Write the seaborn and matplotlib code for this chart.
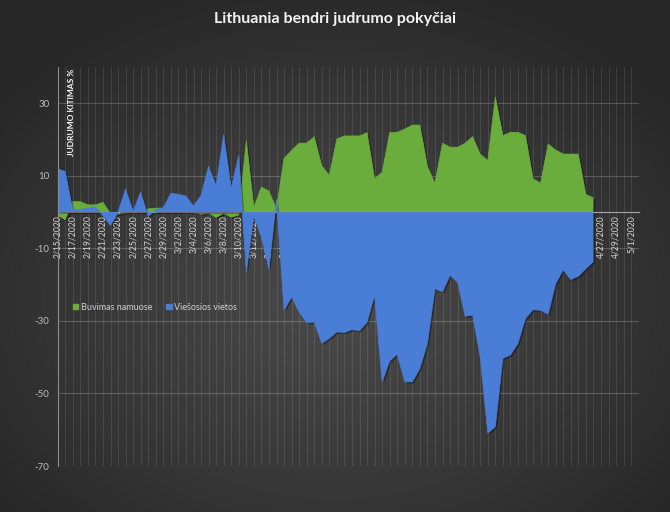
import numpy as np
import pandas as pd
import matplotlib
matplotlib.use("Agg")
import matplotlib.pyplot as plt
import seaborn as sns
from matplotlib import patheffects as pe
from matplotlib.patches import Patch

# ---------------- data ----------------
title = "Lithuania bendri judrumo pokyčiai"
y_label = "JUDRUMO KITIMAS %"
series_names = ["Buvimas namuose", "Viešosios vietos"]
start_date = "2020-02-15"
axis_end_date = "2020-05-02"
y_ticks = [-70, -50, -30, -10, 10, 30]

buvimas_namuose = [
    -0.9, -2.1, 2.9, 2.9, 2.0, 2.0, 2.7, -0.4, -0.6, -0.2,
    0.0, 0.1, 0.9, 1.1, 1.1, 0.3, 0.2, 0.1, 0.0, -0.6,
    -0.3, -1.5, -0.3, -1.4, -0.8, 19.7, 1.4, 6.9, 5.8, 1.0,
    14.8, 17.0, 19.0, 19.0, 20.8, 12.8, 10.1, 20.2, 21.0, 21.0,
    21.0, 21.9, 9.2, 11.0, 21.9, 22.0, 22.9, 24.0, 24.0, 12.6,
    8.0, 19.0, 17.9, 17.9, 19.0, 20.8, 16.0, 14.2, 31.8, 21.1,
    22.0, 22.0, 21.1, 9.2, 8.0, 18.8, 17.1, 16.0, 16.0, 16.0,
    4.9, 3.9,
]
viesosios_vietos = [
    11.9, 11.2, 0.6, 0.7, 1.1, 1.4, -1.0, -3.7, 0.0, 6.4,
    0.3, 5.5, -1.2, 0.7, 1.2, 5.2, 4.9, 4.4, 1.7, 4.6,
    12.6, 7.3, 21.4, 6.6, 15.6, -16.5, -1.0, -7.0, -15.6, 3.5,
    -27.0, -23.4, -27.5, -30.5, -30.3, -36.2, -34.8, -33.0, -33.2, -32.4,
    -32.7, -30.3, -22.9, -46.8, -41.0, -39.2, -46.8, -46.8, -43.1, -36.2,
    -21.1, -22.0, -17.4, -19.3, -28.7, -28.4, -39.9, -61.0, -59.1, -40.3,
    -39.4, -36.2, -29.3, -26.9, -27.1, -28.2, -19.7, -15.9, -18.6, -17.7,
    -15.6, -13.6,
]

green = "#6aad3d"
blue = "#4a7dd6"

# ---------------- style ----------------
sns.set_theme(style="dark")
plt.rcParams["font.family"] = ["Lato", "DejaVu Sans"]
plt.rcParams["axes.unicode_minus"] = False

all_dates = pd.date_range(start_date, axis_end_date)
cat_labels = [f"{d.month}/{d.day}/{d.year}" for d in all_dates]
idx = np.arange(len(buvimas_namuose))
df = pd.DataFrame({"idx": idx,
                   series_names[0]: buvimas_namuose,
                   series_names[1]: viesosios_vietos})

fig = plt.figure(figsize=(6.7, 5.12), dpi=100)

# background radial gradient
bg = fig.add_axes([0, 0, 1, 1], zorder=0)
W, H = 670, 512
yy, xx = np.mgrid[0:H, 0:W]
r = np.sqrt(((xx - 335) / 430.0) ** 2 + ((yy - 300) / 330.0) ** 2)
r = np.clip(r, 0, 1) ** 1.1
c0 = np.array([0x4a, 0x4a, 0x4a]) / 255.0
c1 = np.array([0x27, 0x27, 0x27]) / 255.0
img = c0[None, None, :] * (1 - r[..., None]) + c1[None, None, :] * r[..., None]
bg.imshow(img, aspect="auto", extent=[0, 1, 0, 1], origin="upper")
bg.axis("off")

ax = fig.add_axes([0.0861, 0.0898, 0.8672, 0.7793], zorder=1)
ax.set_facecolor("none")

shadow = [pe.withSimplePatchShadow(offset=(1.2, -1.2), shadow_rgbFace="black", alpha=0.35)]
for name, col, z in [(series_names[0], green, 2.0), (series_names[1], blue, 2.4)]:
    ax.fill_between(df["idx"], 0, df[name], color=col, lw=0, zorder=z, path_effects=shadow)
    sns.lineplot(x=df["idx"], y=df[name], color=col, lw=0.5, ax=ax, zorder=z + 0.1)

ax.set_xlim(0, len(all_dates) - 1)
ax.set_ylim(-70, 40)
ax.set_yticks(y_ticks)
ax.set_xticks(np.arange(0, len(all_dates), 2))
ax.set_xticklabels(cat_labels[::2])
ax.set_xticks(np.arange(0, len(all_dates)), minor=True)
ax.set_xlabel("")
ax.set_ylabel("")

ax.grid(axis="x", which="both", color="white", alpha=0.10, lw=0.7, zorder=0.5)
ax.grid(axis="y", which="major", color="white", alpha=0.20, lw=0.8, zorder=0.5)
ax.set_axisbelow(True)

ax.spines["bottom"].set_position(("data", 0))
ax.spines["bottom"].set_color("#a6a6a6")
ax.spines["bottom"].set_linewidth(0.8)
ax.spines["bottom"].set_zorder(2.2)
ax.spines["left"].set_color("#8c8c8c")
ax.spines["left"].set_linewidth(0.8)
ax.spines["top"].set_visible(False)
ax.spines["right"].set_visible(False)

ax.tick_params(axis="x", which="both", length=0, pad=2, labelsize=6.2,
               labelcolor="#d4d4d4", labelrotation=90)
ax.tick_params(axis="y", length=0, pad=6, labelsize=7, labelcolor="#bcbcbc")

ax.text(0.023, 0.995, y_label, transform=ax.transAxes, rotation=90,
        va="top", ha="center", fontsize=6, fontweight="bold", color="white", zorder=5)

handles = [Patch(color=green, label=series_names[0]), Patch(color=blue, label=series_names[1])]
ax.legend(handles=handles, loc="center left", bbox_to_anchor=(0.02, 0.398), ncol=2,
          frameon=False, fontsize=6.5, labelcolor="#d0d0d0", handlelength=0.6,
          handleheight=0.6, handletextpad=0.3, columnspacing=1.5, borderaxespad=0)

fig.text(0.5, 1 - 19 / 512, title, ha="center", va="center", fontsize=11.5,
         fontweight="bold", color="#f2f2f2")

fig.savefig("out.png", dpi=100)
